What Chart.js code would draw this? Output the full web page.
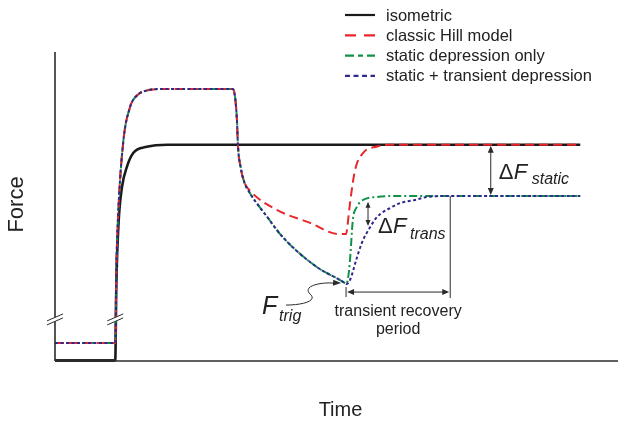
<!DOCTYPE html>
<html>
<head>
<meta charset="utf-8">
<script src="https://cdn.jsdelivr.net/npm/chart.js@4.4.1/dist/chart.umd.min.js"></script>
<style>
  html, body { margin: 0; padding: 0; background: #fff; }
  #wrap { width: 628px; height: 426px; position: relative; }
</style>
</head>
<body>
<div id="wrap"><canvas id="forceChart" width="628" height="426"></canvas></div>
<script>
// time in arbitrary units (0..10), force normalised (0..1)
const seriesLabels = ['isometric', 'classic Hill model', 'static depression only', 'static + transient depression'];

// isometric contraction
const isoT = [0, 1.07, 1.09, 1.13, 1.19, 1.28, 1.39, 1.63, 2.0, 9.33];
const isoF = [0, 0, 0.25, 0.45, 0.563, 0.63, 0.673, 0.693, 0.70, 0.70];

// shared part: pre-activation, activation, stretch plateau, start of shortening
const rampT = [0, 1.07, 1.09, 1.12, 1.21, 1.33, 1.46, 1.62, 1.85, 3.16, 3.23, 3.25, 3.30, 3.36];
const rampF = [0.058, 0.058, 0.30, 0.466, 0.705, 0.82, 0.86, 0.875, 0.88, 0.88, 0.786, 0.696, 0.625, 0.58];

// classic Hill model after split
const hillT = [3.48, 3.94, 4.53, 5.03, 5.17, 5.19, 5.24, 5.33, 5.47, 5.72, 5.95, 9.33];
const hillF = [0.548, 0.489, 0.447, 0.411, 0.411, 0.43, 0.511, 0.618, 0.673, 0.694, 0.70, 0.70];

// shortening down to trigger (shared by static / transient)
const declineT = [3.46, 3.77, 4.05, 4.65, 5.15, 5.17];
const declineF = [0.544, 0.466, 0.40, 0.304, 0.252, 0.249];

// recovery after trigger
const staticT = [5.2, 5.24, 5.29, 5.36, 5.47, 5.72, 6.13, 9.33];
const staticF = [0.262, 0.327, 0.456, 0.498, 0.521, 0.531, 0.534, 0.534];
const transT = [5.24, 5.35, 5.45, 5.6, 5.72, 5.95, 6.13, 6.39, 6.61, 7.02, 9.33];
const transF = [0.262, 0.327, 0.382, 0.434, 0.466, 0.495, 0.511, 0.521, 0.531, 0.534, 0.534];

// annotation anchors
const triggerT = 5.17, triggerF = 0.249;
const recoveryEndT = 7.02;
const deltaStaticT = 7.74;
const deltaTransT = 5.56, deltaTransTop = 0.515, deltaTransBottom = 0.437;
const breakF = 0.133;

function pts(ts, fs) { return ts.map((t, i) => ({ x: t, y: fs[i] })); }

const FONT = '"Liberation Sans", Arial, Helvetica, sans-serif';

const annotations = {
  id: 'annotations',
  afterDatasetsDraw(chart) {
    const ctx = chart.ctx;
    const xs = chart.scales.x, ys = chart.scales.y;
    const X = v => xs.getPixelForValue(v), Y = v => ys.getPixelForValue(v);
    const area = chart.chartArea;

    function arrowHead(x, y, ang, len, w) {
      ctx.save();
      ctx.translate(x, y); ctx.rotate(ang);
      ctx.beginPath(); ctx.moveTo(0, 0); ctx.lineTo(-len, -w); ctx.lineTo(-len, w); ctx.closePath();
      ctx.fill(); ctx.restore();
    }
    function line(x1, y1, x2, y2) { ctx.beginPath(); ctx.moveTo(x1, y1); ctx.lineTo(x2, y2); ctx.stroke(); }

    ctx.save();
    ctx.strokeStyle = '#2b2b2b'; ctx.fillStyle = '#2b2b2b';

    // axes
    ctx.lineWidth = 1.6;
    line(area.left, area.top, area.left, area.bottom);
    line(area.left, area.bottom, area.right, area.bottom);
    ctx.lineWidth = 3;
    line(area.left, area.bottom - 0.5, X(isoT[1]), area.bottom - 0.5);

    // axis breaks
    [0, isoT[1]].forEach(t => {
      const bx = X(t), by = Y(breakF);
      ctx.fillStyle = '#fff';
      ctx.beginPath();
      ctx.moveTo(bx - 8, by + 1); ctx.lineTo(bx + 8, by - 6); ctx.lineTo(bx + 8, by - 2); ctx.lineTo(bx - 8, by + 5);
      ctx.closePath(); ctx.fill();
      ctx.lineWidth = 1;
      line(bx - 8, by + 1, bx + 8, by - 6);
      line(bx - 8, by + 5, bx + 8, by - 2);
    });
    ctx.fillStyle = '#2b2b2b';

    // delta F static
    ctx.lineWidth = 1;
    const sx = X(deltaStaticT), sTop = Y(isoF[isoF.length - 1]), sBot = Y(staticF[staticF.length - 1]);
    line(sx, sTop + 6, sx, sBot - 6);
    arrowHead(sx, sTop + 1, -Math.PI / 2, 7, 3);
    arrowHead(sx, sBot - 1, Math.PI / 2, 7, 3);

    // delta F trans
    const tx = X(deltaTransT), tTop = Y(deltaTransTop), tBot = Y(deltaTransBottom);
    line(tx, tTop + 5, tx, tBot - 5);
    arrowHead(tx, tTop, -Math.PI / 2, 6, 2.5);
    arrowHead(tx, tBot, Math.PI / 2, 6, 2.5);

    // transient recovery period
    const px0 = X(triggerT), px1 = X(recoveryEndT), py = Y(triggerF) + 8;
    line(px1, Y(staticF[staticF.length - 1]), px1, py + 6);
    line(px0, py - 5, px0, py + 5);
    line(px0 + 6, py, px1 - 6, py);
    arrowHead(px0 + 1, py, Math.PI, 7, 3);
    arrowHead(px1 - 1, py, 0, 7, 3);

    // F_trig pointer
    const fx = X(triggerT), fy = Y(triggerF);
    ctx.beginPath();
    ctx.moveTo(fx - 60, fy + 21);
    ctx.bezierCurveTo(fx - 44, fy + 21, fx - 28, fy + 17, fx - 36, fy + 10);
    ctx.bezierCurveTo(fx - 44, fy + 2, fx - 26, fy - 2, fx - 12, fy - 1);
    ctx.stroke();
    arrowHead(fx - 5, fy - 1, 0.05, 8, 3);

    // texts
    ctx.fillStyle = '#222';
    ctx.textBaseline = 'alphabetic';
    ctx.textAlign = 'left';
    ctx.font = '22px ' + FONT;
    ctx.fillText('\u0394', sx + 8, sBot - 17);
    ctx.font = 'italic 22px ' + FONT;
    ctx.fillText('F', sx + 23, sBot - 17);
    ctx.font = 'italic 16px ' + FONT;
    ctx.fillText('static', sx + 41, sBot - 12);

    ctx.font = '22px ' + FONT;
    ctx.fillText('\u0394', tx + 10, tBot + 7);
    ctx.font = 'italic 22px ' + FONT;
    ctx.fillText('F', tx + 25, tBot + 7);
    ctx.font = 'italic 16px ' + FONT;
    ctx.fillText('trans', tx + 42, tBot + 13);

    ctx.font = 'italic 25px ' + FONT;
    ctx.fillText('F', fx - 84, fy + 30);
    ctx.font = 'italic 16px ' + FONT;
    ctx.fillText('trig', fx - 67, fy + 37);

    ctx.textAlign = 'center';
    ctx.font = '16px ' + FONT;
    const cx = (px0 + px1) / 2;
    ctx.fillText('transient recovery', cx, py + 24);
    ctx.fillText('period', cx, py + 42);

    // axis titles
    ctx.font = '20px ' + FONT;
    ctx.fillText('Time', (area.left + area.right) / 2 + 4, area.bottom + 55);
    ctx.save();
    ctx.translate(area.left - 32, (area.top + area.bottom) / 2 - 2);
    ctx.rotate(-Math.PI / 2);
    ctx.font = '22px ' + FONT;
    ctx.fillText('Force', 0, 0);
    ctx.restore();

    // legend
    ctx.textAlign = 'left';
    ctx.textBaseline = 'middle';
    ctx.font = '16.5px ' + FONT;
    chart.data.datasets.forEach((ds, i) => {
      const ly = 15 + i * 20.3;
      ctx.save();
      ctx.strokeStyle = ds.borderColor;
      ctx.lineWidth = 2.2;
      ctx.setLineDash(ds.legendDash || []);
      line(345, ly, 375, ly);
      ctx.restore();
      ctx.fillStyle = '#222';
      ctx.fillText(ds.label, 386, ly + 1);
    });
    ctx.restore();
  }
};

const ctxForce = document.getElementById('forceChart').getContext('2d');
const forceChart = new Chart(ctxForce, {
  type: 'line',
  data: {
    datasets: [
      {
        label: seriesLabels[0],
        data: pts(isoT, isoF),
        borderColor: '#1a1a1a', borderWidth: 2.6,
        legendDash: [], order: 3
      },
      {
        label: seriesLabels[1],
        data: pts(rampT.concat(hillT), rampF.concat(hillF)),
        borderColor: '#e8262b', borderWidth: 2, borderDash: [9, 5],
        legendDash: [11, 8], order: 1
      },
      {
        label: seriesLabels[2],
        data: pts(rampT.concat(declineT, staticT), rampF.concat(declineF, staticF)),
        borderColor: '#10924a', borderWidth: 2, borderDash: [8, 3, 2, 3],
        legendDash: [9, 4, 5, 4], order: 2
      },
      {
        label: seriesLabels[3],
        data: pts(rampT.concat(declineT, transT), rampF.concat(declineF, transF)),
        borderColor: '#2d2a8c', borderWidth: 2, borderDash: [3, 2.5],
        legendDash: [5, 3.5], order: 0
      }
    ]
  },
  options: {
    responsive: false,
    animation: false,
    layout: { padding: { left: 55, right: 10, top: 52, bottom: 65 } },
    elements: {
      point: { radius: 0 },
      line: { cubicInterpolationMode: 'monotone', fill: false }
    },
    scales: {
      x: { type: 'linear', min: 0, max: 10, display: false },
      y: { min: 0, max: 1, display: false }
    },
    plugins: {
      legend: { display: false },
      tooltip: { enabled: false }
    }
  },
  plugins: [annotations]
});
</script>
</body>
</html>
